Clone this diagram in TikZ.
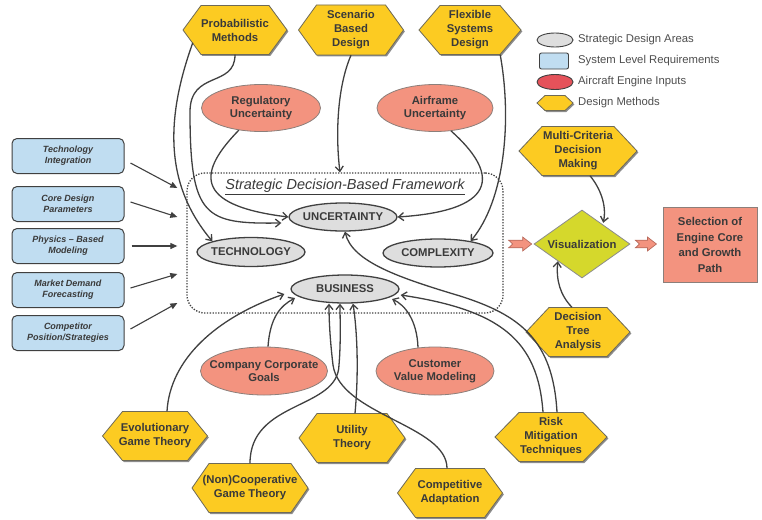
\documentclass[tikz,border=0pt]{standalone}
\usepackage{fontspec}
\setmainfont{Liberation Sans}
\usetikzlibrary{arrows.meta,shapes.geometric}
\definecolor{hexfill}{HTML}{FCCB22}
\definecolor{hexdraw}{HTML}{6E6A58}
\definecolor{salmon}{HTML}{F3937F}
\definecolor{salmondraw}{HTML}{8C7F7A}
\definecolor{grayfill}{HTML}{DEDEDE}
\definecolor{bluefill}{HTML}{C0DDF1}
\definecolor{visfill}{HTML}{D5D82C}
\definecolor{redfill}{HTML}{E5525A}
\definecolor{txt}{HTML}{3A3A3A}
\definecolor{linec}{HTML}{404040}
\definecolor{pinkdraw}{HTML}{B86A5C}
\tikzset{
  hexshape/.style={fill=hexfill, draw=hexdraw, line width=0.8pt},
  hexshadow/.style={fill=black!45},
  hextext/.style={inner sep=0pt, align=center, text=txt, font=\bfseries\fontsize{11.3}{14}\selectfont},
  sda/.style={ellipse, draw=linec, line width=1.3pt, fill=grayfill, inner sep=0pt},
  sdatext/.style={inner sep=0pt, text=txt, font=\bfseries\fontsize{11.3}{13}\selectfont},
  inp/.style={ellipse, draw=salmondraw, line width=0.8pt, fill=salmon, inner sep=0pt},
  inptext/.style={inner sep=0pt, align=center, text=txt, font=\bfseries\fontsize{11.3}{13.5}\selectfont},
  req/.style={rectangle, rounded corners=5pt, draw=linec, line width=1pt, fill=bluefill,
    minimum width=112pt, minimum height=35pt, inner sep=0pt, align=center, text=txt,
    font=\bfseries\itshape\fontsize{9}{11}\selectfont},
  fwbox/.style={rectangle, rounded corners=18pt, draw=linec, line width=1.3pt,
    dash pattern=on 1.3pt off 1.5pt},
  conn/.style={draw=linec, line width=1.3pt, -{Straight Barb[length=5pt,width=8pt]}},
  larr/.style={draw=linec, line width=1.1pt, -{Triangle[length=7pt,width=6pt]}},
  blockarr/.style={fill=salmon, draw=pinkdraw, line width=0.7pt, line join=miter},
  lgtext/.style={inner sep=0pt, anchor=west, text=txt!90, font=\fontsize{11.3}{13}\selectfont},
}
% name, x, y, width, height, tip depth, text
\newcommand\hexnode[7]{%
  \fill[hexshadow] (#2-#4/2+1.3,#3+1.5) -- ++(#6,-#5/2) -- ++(#4-2*#6,0) -- ++(#6,#5/2) -- ++(-#6,#5/2) -- ++(-#4+2*#6,0) -- cycle;
  \draw[hexshape] (#2-#4/2,#3) -- ++(#6,-#5/2) -- ++(#4-2*#6,0) -- ++(#6,#5/2) -- ++(-#6,#5/2) -- ++(-#4+2*#6,0) -- cycle;
  \node[hextext,minimum width=#4pt,minimum height=#5pt] (#1) at (#2,#3) {#7};}
% name, x, y, width, height, shape style, text style, text
\newcommand\ellnode[8]{%
  \node[#6,minimum width=#4pt,minimum height=#5pt] (#1) at (#2,#3) {};
  \node[#7] (#1-t) at (#1.center) {#8};}
\begin{document}
\begin{tikzpicture}[x=1pt,y=-1pt]
\fill[white] (0,0) rectangle (762,519);
\useasboundingbox (0,0) rectangle (762,519);

% framework
\node[fwbox, minimum width=316pt, minimum height=140pt] (fw) at (345,243) {};
\node[inner sep=0pt, text=txt, font=\itshape\fontsize{14.5}{16}\selectfont] (ttl) at (345,187) {\underline{Strategic Decision-Based Framework}};

% top design methods
\hexnode{prob}{235}{30}{104}{49}{18}{Probabilistic\\Methods}
\hexnode{scen}{351}{30}{105}{50}{18}{Scenario\\Based\\Design}
\hexnode{flex}{470}{30}{102}{49}{21}{Flexible\\Systems\\Design}

% inputs
\ellnode{reg}{261}{108}{119}{47}{inp}{inptext}{Regulatory\\Uncertainty}
\ellnode{air}{435}{108}{116}{47}{inp}{inptext}{Airframe\\Uncertainty}
\ellnode{cg}{264}{371}{127}{48}{inp}{inptext}{Company Corporate\\Goals}
\ellnode{cust}{435}{371}{118}{48}{inp}{inptext}{Customer\\Value Modeling}

% strategic design areas
\ellnode{unc}{343}{217}{108}{28}{sda}{sdatext}{UNCERTAINTY}
\ellnode{tech}{251}{252}{108}{29}{sda}{sdatext}{TECHNOLOGY}
\ellnode{comp}{438}{253}{110}{28}{sda}{sdatext}{COMPLEXITY}
\ellnode{bus}{345}{289}{108}{28}{sda}{sdatext}{BUSINESS}

% requirements
\node[req] (ti) at (68,156) {Technology\\Integration};
\node[req] (cd) at (68,204) {Core Design\\Parameters};
\node[req] (pb) at (68,246) {Physics -- Based\\Modeling};
\node[req] (md) at (68,290) {Market Demand\\Forecasting};
\node[req] (cp) at (68,333) {Competitor\\Position/Strategies};

% right
\hexnode{mc}{578}{151}{118}{49}{23}{Multi-Criteria\\Decision\\Making}
\hexnode{dt}{578}{332}{104}{49}{23}{Decision\\Tree\\Analysis}
\node[diamond, aspect=1.41, minimum width=96pt, minimum height=68pt, inner sep=0pt,
  fill=visfill, draw=black!45, line width=0.8pt, text=txt,
  font=\bfseries\fontsize{11.3}{13}\selectfont] (vis) at (582,244) {Visualization};
\node[rectangle, fill=salmon, draw=salmondraw, line width=0.9pt, minimum width=94pt,
  minimum height=75pt, inner sep=0pt, align=center, text=txt,
  font=\bfseries\fontsize{11.3}{15.5}\selectfont] (sel) at (710,245) {Selection of\\Engine Core\\and Growth\\Path};

% bottom methods
\hexnode{evo}{155}{436}{105}{49}{20}{Evolutionary\\Game Theory}
\hexnode{nc}{250}{488}{116}{49}{17}{(Non)Cooperative\\Game Theory}
\hexnode{ut}{352}{438}{106}{49}{18}{Utility\\Theory}
\hexnode{ca}{450}{493}{105}{49}{18}{Competitive\\Adaptation}
\hexnode{risk}{551}{437}{112}{49}{24}{Risk\\Mitigation\\Techniques}

% legend
\node[ellipse, draw=linec, line width=0.9pt, fill=grayfill, minimum width=36pt, minimum height=14pt, inner sep=0pt] (lg1) at (555,40) {};
\node[lgtext] (lt1) at (578,40) {Strategic Design Areas};
\node[rectangle, rounded corners=2pt, draw=linec, line width=0.9pt, fill=bluefill, minimum width=29pt, minimum height=16pt, inner sep=0pt] (lg2) at (554,61) {};
\node[lgtext] (lt2) at (578,61) {System Level Requirements};
\node[ellipse, draw=linec, line width=0.9pt, fill=redfill, minimum width=36pt, minimum height=15pt, inner sep=0pt] (lg3) at (555,82) {};
\node[lgtext] (lt3) at (578,82) {Aircraft Engine Inputs};
\hexnode{lg4}{555}{103}{36}{15}{8}{}
\node[lgtext] (lt4) at (578,103) {Design Methods};

% requirement arrows
\draw[larr] ([shift={(6,7)}]ti.east) -- ([shift={(-9,-55)}]fw.west);
\draw[larr] ([shift={(6,-2)}]cd.east) -- ([shift={(-9,-26)}]fw.west);
\draw[larr] ([shift={(7,0)}]pb.east) -- ([shift={(-9,3)}]fw.west);
\draw[larr] ([shift={(6,-2)}]md.east) -- ([shift={(-9,31)}]fw.west);
\draw[larr] ([shift={(6,-4)}]cp.east) -- ([shift={(-9,60)}]fw.west);

% top connectors
\draw[conn] ([shift={(10,-12)}]prob.south west) .. controls (165,120) and (165,185) .. (tech.north west);
\draw[conn] (prob.south) .. controls (235,88) and (190,70) .. (190,112) .. controls (190,218) and (205,224) .. ([shift={(-7,6)}]unc.west);
\draw[conn] (reg.225) .. controls (200,170) and (190,205) .. (unc.west);
\draw[conn] (scen.south) .. controls (336,90) and (336,140) .. ([xshift=-5pt]fw.north);
\draw[conn] (air.305) .. controls (495,170) and (505,210) .. (unc.east);
\draw[conn] ([xshift=-21pt]flex.south east) .. controls (512,120) and (505,200) .. (comp.20);

% bottom connectors
\draw[conn] ([xshift=12pt]evo.north) .. controls (170,360) and (215,318) .. ([shift={(-6,5)}]bus.west);
\draw[conn] ([xshift=4pt]cg.north) .. controls (270,318) and (280,306) .. ([shift={(-50,9)}]bus.center);
\draw[conn] ([xshift=-3pt]ca.north) .. controls (447,425) and (340,415) .. (333,365) .. controls (330,340) and (329,320) .. ([xshift=-16pt]bus.south);
\draw[conn] (nc.north) .. controls (250,400) and (338,410) .. (339,365) .. controls (341,340) and (340,320) .. ([xshift=-5pt]bus.south);
\draw[conn] ([xshift=3pt]ut.north) .. controls (359,370) and (357,330) .. ([xshift=8pt]bus.south);
\draw[conn] ([shift={(-17,1)}]cust.north) .. controls (417,320) and (405,305) .. ([shift={(47,10)}]bus.center);
\draw[conn] ([xshift=-8pt]risk.north) .. controls (538,340) and (500,310) .. ([shift={(1,6)}]bus.east);
\draw[conn] ([xshift=6pt]risk.north) .. controls (553,340) and (520,315) .. (460,296) .. controls (400,278) and (352,262) .. ([xshift=2pt]unc.south);

% right connectors
\draw[conn] ([xshift=12pt]mc.south) .. controls (600,188) and (607,205) .. ([shift={(-3,-4)}]vis.north east);
\draw[conn] ([xshift=-6pt]dt.north) .. controls (560,295) and (556,280) .. (vis.south west);

% block arrows
\begin{scope}[shift={(fw.east)}]
\draw[blockarr] (5,-2.8) -- (19,-2.8) -- (19,-6) -- (28,1) -- (19,8) -- (19,4.8) -- (5,4.8) -- (9,1) -- cycle;
\end{scope}
\begin{scope}[shift={(vis.east)}]
\draw[blockarr] (5,-3.8) -- (17,-3.8) -- (17,-7) -- (26,0) -- (17,7) -- (17,3.8) -- (5,3.8) -- (9,0) -- cycle;
\end{scope}
\end{tikzpicture}
\end{document}
